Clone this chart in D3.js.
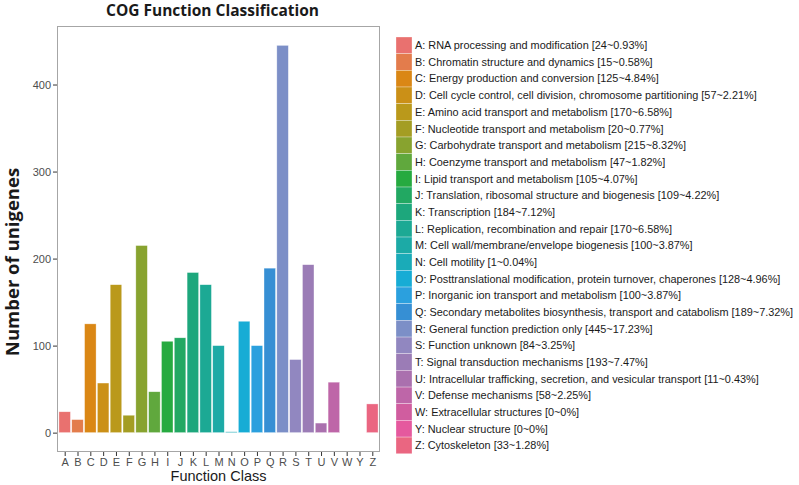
<!DOCTYPE html>
<html><head><meta charset="utf-8">
<script src="https://cdn.jsdelivr.net/npm/d3@7"></script>
<style>body{margin:0;background:#fff}svg{display:block}</style>
</head><body>
<script>
const categories = ["A","B","C","D","E","F","G","H","I","J","K","L","M","N","O","P","Q","R","S","T","U","V","W","Y","Z"];
const values = [24,15,125,57,170,20,215,47,105,109,184,170,100,1,128,100,189,445,84,193,11,58,0,0,33];
const percents = ["0.93%","0.58%","4.84%","2.21%","6.58%","0.77%","8.32%","1.82%","4.07%","4.22%","7.12%","6.58%","3.87%","0.04%","4.96%","3.87%","7.32%","17.23%","3.25%","7.47%","0.43%","2.25%","0%","0%","1.28%"];
const descriptions = [
"RNA processing and modification",
"Chromatin structure and dynamics",
"Energy production and conversion",
"Cell cycle control, cell division, chromosome partitioning",
"Amino acid transport and metabolism",
"Nucleotide transport and metabolism",
"Carbohydrate transport and metabolism",
"Coenzyme transport and metabolism",
"Lipid transport and metabolism",
"Translation, ribosomal structure and biogenesis",
"Transcription",
"Replication, recombination and repair",
"Cell wall/membrane/envelope biogenesis",
"Cell motility",
"Posttranslational modification, protein turnover, chaperones",
"Inorganic ion transport and metabolism",
"Secondary metabolites biosynthesis, transport and catabolism",
"General function prediction only",
"Function unknown",
"Signal transduction mechanisms",
"Intracellular trafficking, secretion, and vesicular transport",
"Defense mechanisms",
"Extracellular structures",
"Nuclear structure",
"Cytoskeleton"];
const yTicks = [0,100,200,300,400];
const title = "COG Function Classification";
const xTitle = "Function Class";
const yTitle = "Number of unigenes";

// fill palette (style), one per category
const palette = ["#E9716F","#E37C4C","#DA8715","#CB9017","#BA991B","#A49D23","#88A32F","#60A83D","#26AA40","#22A862",
  "#1DA77C","#1CA994","#1CAAA6","#1AABB8","#17ACD5","#2BA0DE","#368FD4","#7C8FC7","#9187C0","#9B7CB6",
  "#AA70AE","#BE66A8","#D05D9F","#E5599E","#EA6681"];

const W = 799, H = 485;
const panel = {left:57, right:380, top:26, bottom:452};
const svg = d3.select("body").append("svg").attr("width",W).attr("height",H);

const n = categories.length;
const color = d3.scaleOrdinal().domain(categories).range(palette);

const maxV = d3.max(values);
const y = d3.scaleLinear().domain([-0.05*maxV, maxV*1.05]).range([panel.bottom, panel.top]);
const unit = (panel.right-panel.left)/(n-1+1.2);
const x = d3.scalePoint().domain(categories).range([panel.left+0.6*unit, panel.right-0.6*unit]);
const bw = 0.9*unit;

svg.append("rect").attr("x",panel.left+0.5).attr("y",panel.top+0.5)
  .attr("width",panel.right-panel.left-1).attr("height",panel.bottom-panel.top-1)
  .attr("fill","#fff").attr("stroke","#a6a6a6").attr("stroke-width",1);

svg.append("g").selectAll("rect").data(categories).join("rect")
  .attr("x",d=>x(d)-bw/2).attr("width",bw)
  .attr("y",(d,i)=>y(values[i])).attr("height",(d,i)=>y(0)-y(values[i]))
  .attr("fill",d=>color(d)).attr("stroke","#ffffff").attr("stroke-opacity",0.6).attr("stroke-width",0.6);

const yAxis = d3.axisLeft(y).tickValues(yTicks).tickSize(4).tickPadding(2);
const gy = svg.append("g").attr("transform",`translate(${panel.left},0)`).call(yAxis);
const xAxis = d3.axisBottom(x).tickSize(4).tickPadding(2);
const gx = svg.append("g").attr("transform",`translate(0,${panel.bottom})`).call(xAxis);
[gy,gx].forEach(g=>{
  g.select(".domain").remove();
  g.selectAll(".tick line").attr("stroke","#333");
  g.selectAll(".tick text").attr("fill","#4d4d4d").style("font-family","'Liberation Sans', Arial, sans-serif").style("font-size","11px");
});

svg.append("text").attr("x",(panel.left+panel.right)/2 - 6).attr("y",16).attr("text-anchor","middle")
  .style("font-family","'Open Sans', sans-serif").style("font-weight","bold").style("font-size","15.5px").attr("fill","#1a1a1a").text(title);
svg.append("text").attr("x",(panel.left+panel.right)/2).attr("y",481).attr("text-anchor","middle")
  .style("font-family","'Liberation Sans', Arial, sans-serif").style("font-size","14.5px").attr("fill","#1a1a1a").text(xTitle);
svg.append("text").attr("transform",`translate(19,${(panel.top+panel.bottom)/2+23}) rotate(-90)`).attr("text-anchor","middle")
  .style("font-family","'Open Sans', sans-serif").style("font-weight","bold").style("font-size","18.5px").attr("fill","#1a1a1a").text(yTitle);

const lg = svg.append("g");
const keyX = 396, keyW = 16, keyTop = 37, rowH = 16.67;
categories.forEach((c,i)=>{
  lg.append("rect").attr("x",keyX).attr("y",keyTop+i*rowH).attr("width",keyW).attr("height",rowH)
    .attr("fill",color(c)).attr("stroke","#fff").attr("stroke-width",0.5).attr("stroke-opacity",0.6);
  lg.append("text").attr("x",415).attr("y",keyTop+i*rowH+rowH/2).attr("dy","0.35em")
    .style("font-family","'Liberation Sans', Arial, sans-serif").style("font-size","10.9px").attr("fill","#1a1a1a")
    .text(`${c}: ${descriptions[i]} [${values[i]}~${percents[i]}]`);
});
</script>
</body></html>
